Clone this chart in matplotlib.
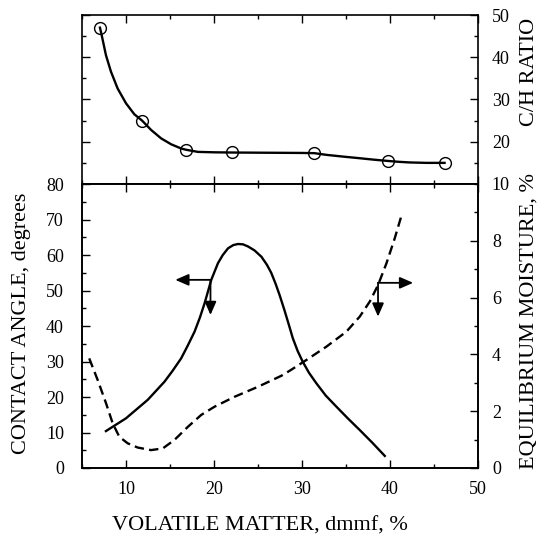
import numpy as np
import matplotlib
matplotlib.use('Agg')
import matplotlib.pyplot as plt
from matplotlib.ticker import MultipleLocator, NullFormatter

plt.rcParams['font.family'] = ['Liberation Serif', 'DejaVu Serif']

# C/H ratio measurements (top panel)
ch_vm = [7.04, 11.83, 16.84, 22.1, 31.4, 39.8, 46.2]
ch_ratio = [47.0, 25.0, 18.1, 17.5, 17.3, 15.4, 15.0]

# smooth C/H curve
ch_curve_vm = [7.04, 7.23, 7.72, 8.29, 9.05, 10.0, 10.95, 11.83, 12.85,
               13.99, 15.13, 16.27, 16.84, 18.17, 20.07, 22.1, 26.0, 30.0,
               31.4, 32.76, 34.6, 36.56, 38.2, 39.8, 41.0, 42.25, 44.16, 46.2]
ch_curve = [47.0, 45.3, 40.5, 36.6, 32.6, 29.1, 26.5, 25.0, 22.8, 20.8,
            19.4, 18.4, 18.1, 17.6, 17.5, 17.45, 17.4, 17.35, 17.3, 16.9,
            16.5, 16.1, 15.75, 15.45, 15.25, 15.1, 15.0, 15.0]

# contact angle curve (left axis, solid)
ca_vm = [7.72, 10.0, 12.47, 14.37, 15.3, 16.27, 17.0, 17.79, 18.4, 18.93,
         19.3, 19.69, 20.45, 21.0, 21.6, 22.2, 22.73, 23.3, 23.87, 24.6,
         25.39, 26.0, 26.5, 27.0, 27.47, 28.0, 28.5, 28.95, 29.5, 30.09,
         30.8, 31.62, 32.7, 33.9, 35.2, 36.56, 38.0, 39.41]
ca_deg = [10.4, 14.0, 19.2, 24.3, 27.4, 30.9, 34.4, 38.4, 42.4, 46.4,
          49.6, 53.0, 57.7, 60.0, 61.9, 62.8, 63.1, 63.0, 62.4, 61.3,
          59.5, 57.3, 55.0, 51.9, 48.6, 44.5, 40.4, 36.6, 33.0, 29.9,
          26.8, 23.9, 20.4, 17.3, 14.0, 10.7, 7.1, 3.4]

# equilibrium moisture curve (right axis, dashed)
em_vm = [5.82, 6.78, 7.72, 8.49, 9.24, 10.19, 11.33, 12.85, 14.18, 15.51,
         17.03, 18.55, 20.07, 22.35, 25.0, 27.67, 28.58, 30.48, 32.76, 35.04,
         36.56, 37.7, 38.64, 39.6, 40.54, 41.38]
em_pct = [3.86, 3.10, 2.29, 1.57, 1.10, 0.87, 0.72, 0.63, 0.69, 0.99,
          1.45, 1.87, 2.16, 2.51, 2.86, 3.25, 3.42, 3.80, 4.27, 4.80,
          5.33, 5.86, 6.44, 7.21, 8.09, 8.97]

# arrow annotations: (start x, start y, side end x, down end y)
ca_arrow = [19.6, 53.0, 15.6, 43.1]
em_arrow = [38.64, 6.52, 42.63, 5.33]

fig = plt.figure(figsize=(5.41, 5.39), dpi=100)
left, width = 82 / 541, 396 / 541
ax_top = fig.add_axes([left, 1 - 184 / 539, width, 169 / 539])
ax = fig.add_axes([left, 1 - 468 / 539, width, 284 / 539])
ax2 = ax.twinx()

lw = 1.7
fs_tick = 13
fs_lab = 16

# --- top panel: C/H ratio
ax_top.plot(ch_curve_vm, ch_curve, color='k', lw=lw, solid_joinstyle='round')
ax_top.plot(ch_vm, ch_ratio, 'o', mfc='none', mec='k', mew=1.0, ms=8.5)
ax_top.set_xlim(5, 50)
ax_top.set_ylim(10, 50)
ax_top.xaxis.set_major_locator(MultipleLocator(10))
ax_top.xaxis.set_minor_locator(MultipleLocator(5))
ax_top.yaxis.set_major_locator(MultipleLocator(10))
ax_top.yaxis.set_minor_locator(MultipleLocator(5))
ax_top.tick_params(which='both', direction='in', top=True, bottom=True,
                   left=True, right=True, labelbottom=False, labelleft=False,
                   labelright=True, labelsize=fs_tick, pad=10)
ax_top.tick_params(which='major', length=6, width=1)
ax_top.tick_params(which='minor', length=3, width=1)

# --- bottom panel: contact angle and equilibrium moisture
ax.plot(ca_vm, ca_deg, color='k', lw=lw, solid_joinstyle='round')
ax2.plot(em_vm, em_pct, color='k', lw=lw, ls=(0, (4, 2.2)))

ax.set_xlim(5, 50)
ax.set_ylim(0, 80)
ax2.set_ylim(0, 10)
ax.xaxis.set_major_locator(MultipleLocator(10))
ax.xaxis.set_minor_locator(MultipleLocator(5))
ax.xaxis.set_minor_formatter(NullFormatter())
ax.yaxis.set_major_locator(MultipleLocator(10))
ax.yaxis.set_minor_locator(MultipleLocator(5))
ax2.set_yticks([0, 2, 4, 6, 8])
ax2.yaxis.set_minor_locator(MultipleLocator(1))
ax.tick_params(which='both', direction='in', top=True, labelsize=fs_tick)
ax.tick_params(axis='y', pad=13)
ax.tick_params(axis='x', pad=9)
ax2.tick_params(which='both', direction='in', labelsize=fs_tick, pad=10)
for a in (ax, ax2):
    a.tick_params(which='major', length=6, width=1)
    a.tick_params(which='minor', length=3, width=1)

for a in (ax_top, ax, ax2):
    for s in a.spines.values():
        s.set_linewidth(1.2)

arrow_kw = dict(arrowstyle='-|>,head_length=0.8,head_width=0.35', color='k',
                lw=1.3, shrinkA=0, shrinkB=0)
x0, y0, xl, yd = ca_arrow
ax.annotate('', xy=(xl, y0), xytext=(x0, y0), arrowprops=arrow_kw)
ax.annotate('', xy=(x0, yd), xytext=(x0, y0), arrowprops=arrow_kw)
x0, y0, xr, yd = em_arrow
ax2.annotate('', xy=(xr, y0), xytext=(x0, y0), arrowprops=arrow_kw)
ax2.annotate('', xy=(x0, yd), xytext=(x0, y0), arrowprops=arrow_kw)

# axis titles placed as in the original
fig.text(22 / 541, 1 - 323 / 539, 'CONTACT ANGLE, degrees', rotation=90,
         ha='center', va='center', fontsize=fs_lab)
fig.text(529 / 541, 1 - 321 / 539, 'EQUILIBRIUM MOISTURE, %', rotation=90,
         ha='center', va='center', fontsize=fs_lab)
fig.text(529 / 541, 1 - 72 / 539, 'C/H RATIO', rotation=90,
         ha='center', va='center', fontsize=fs_lab)
fig.text(260 / 541, 1 - 526 / 539, 'VOLATILE MATTER, dmmf, %',
         ha='center', va='center', fontsize=fs_lab)

fig.savefig('out.png', dpi=100)
